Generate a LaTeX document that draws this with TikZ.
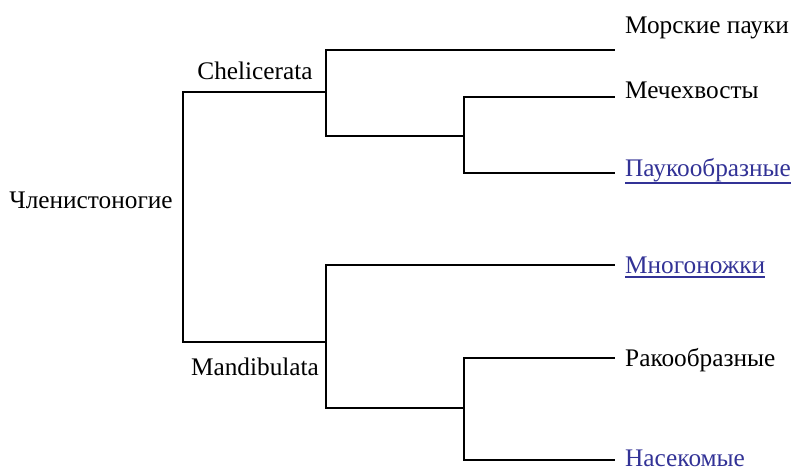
\documentclass[tikz,border=0pt]{standalone}
\usepackage{fontspec}
\setmainfont{Liberation Serif}
\definecolor{linkblue}{RGB}{50,50,150}
\begin{document}
\begin{tikzpicture}[x=1pt,y=-1pt,
  branch/.style={line width=1.6pt, line cap=rect},
  lbl/.style={inner sep=0pt, font=\fontsize{25.3}{29}\selectfont},
  leaf/.style={lbl, anchor=base west},
  link/.style={leaf, text=linkblue},
  uline/.style={draw=linkblue, line width=1.1pt}]
\useasboundingbox (0,0) rectangle (794,469);
% internal points
\coordinate (R) at (183,217);
\coordinate (C) at (326,92);
\coordinate (M) at (326,342);
\coordinate (C2) at (464,136);
\coordinate (M2) at (464,408);
% line ends
\coordinate (e1) at (614,50);
\coordinate (e2) at (614,97);
\coordinate (e3) at (614,173);
\coordinate (e4) at (614,265);
\coordinate (e5) at (614,358);
\coordinate (e6) at (614,460);
% labels
\node[lbl, anchor=base] (root) at (91,208) {Членистоногие};
\node[lbl, anchor=base] (chel) at (255,79) {Chelicerata};
\node[lbl, anchor=base] (mand) at (255,375) {Mandibulata};
\node[leaf] (t1) at (625,33) {Морские пауки};
\node[leaf] (t2) at (625,98) {Мечехвосты};
\node[link] (t3) at (625,176) {Паукообразные};
\node[link] (t4) at (625,273) {Многоножки};
\node[leaf] (t5) at (625,366) {Ракообразные};
\node[link] (t6) at (625,466) {Насекомые};
\draw[uline] ([yshift=-7pt]t3.base west) -- ([yshift=-7pt]t3.base east);
\draw[uline] ([yshift=-4pt]t4.base west) -- ([yshift=-4pt]t4.base east);
% tree
\draw[branch] (C) -- (C -| R) -- (M -| R) -- (M);
\draw[branch] (e1) -- (e1 -| C) -- (C2 -| C) -- (C2);
\draw[branch] (e2) -- (e2 -| C2) -- (e3 -| C2) -- (e3);
\draw[branch] (e4) -- (e4 -| M) -- (M2 -| M) -- (M2);
\draw[branch] (e5) -- (e5 -| M2) -- (e6 -| M2) -- (e6);
\end{tikzpicture}
\end{document}
